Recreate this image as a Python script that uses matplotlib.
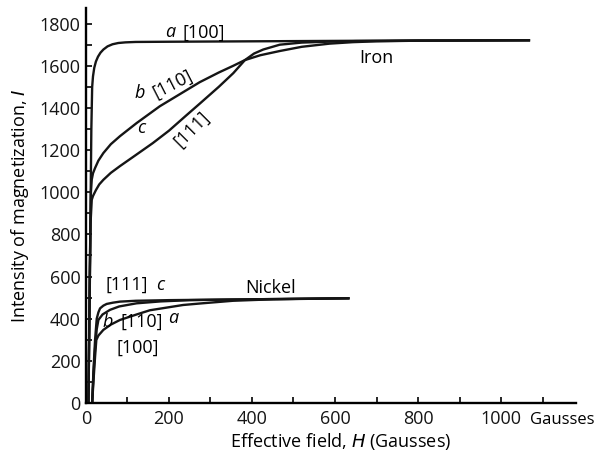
import matplotlib
matplotlib.use("Agg")
import matplotlib.pyplot as plt
import matplotlib.transforms as mtransforms
from matplotlib.ticker import MultipleLocator

plt.rcParams['font.family'] = ['Open Sans', 'DejaVu Sans']

# ---- Iron curves (H in Gausses, I intensity of magnetization)
iron_a_H = [6, 10, 13, 15, 17, 20, 24, 29, 35, 42, 52, 64, 78, 95, 120, 200, 400, 600, 800, 1070]
iron_a_I = [0, 700, 1300, 1500, 1550, 1590, 1620, 1643, 1662, 1677, 1692, 1702, 1708, 1711, 1713, 1714, 1716, 1718, 1720, 1721]

iron_b_H = [6, 9, 12, 14, 17, 22, 30, 42, 60, 82, 122, 178, 226, 274, 320, 355, 383, 420, 467, 520, 587, 643, 700, 800, 1070]
iron_b_I = [0, 600, 1000, 1060, 1090, 1115, 1150, 1186, 1228, 1266, 1328, 1408, 1465, 1522, 1568, 1600, 1627, 1650, 1670, 1690, 1705, 1712, 1716, 1719, 1721]

iron_c_H = [6, 9, 11, 14, 17, 24, 32, 42, 60, 82, 114, 161, 200, 242, 274, 320, 355, 383, 405, 427, 467, 520, 580, 650, 800, 1070]
iron_c_I = [0, 500, 850, 964, 982, 1010, 1037, 1059, 1092, 1124, 1168, 1233, 1292, 1365, 1420, 1500, 1565, 1627, 1658, 1677, 1700, 1710, 1714, 1717, 1719, 1721]

# ---- Nickel curves
nickel_c_H = [15, 18, 22, 26, 30, 34, 42, 50, 65, 82, 120, 200, 300, 400, 500, 635]
nickel_c_I = [0, 150, 300, 400, 430, 449, 462, 470, 476, 481, 485, 488, 490, 492, 494, 497]

nickel_b_H = [15, 18, 22, 26, 30, 40, 58, 80, 122, 180, 250, 350, 635]
nickel_b_I = [0, 130, 260, 350, 394, 420, 442, 458, 473, 482, 488, 491, 497]

nickel_a_H = [15, 18, 22, 25, 30, 42, 60, 82, 122, 154, 202, 234, 274, 354, 450, 635]
nickel_a_I = [0, 100, 220, 299, 320, 347, 372, 394, 420, 440, 455, 465, 472, 485, 492, 497]

x_major = [0, 200, 400, 600, 800, 1000]
y_major = [0, 200, 400, 600, 800, 1000, 1200, 1400, 1600, 1800]

line_col = '#151515'
lw = 1.7
fs = 13

fig = plt.figure(figsize=(6.01, 4.59), dpi=100)
ax = fig.add_axes([0.143, 0.122, 0.815, 0.861])

for H, I in [(iron_a_H, iron_a_I), (iron_b_H, iron_b_I), (iron_c_H, iron_c_I),
             (nickel_a_H, nickel_a_I), (nickel_b_H, nickel_b_I), (nickel_c_H, nickel_c_I)]:
  ax.plot(H, I, color=line_col, linewidth=lw, solid_capstyle='butt', solid_joinstyle='round')

ax.set_xlim(0, 1180)
ax.set_ylim(0, 1875)
ax.spines['top'].set_visible(False)
ax.spines['right'].set_visible(False)
ax.spines['left'].set_linewidth(1.7)
ax.spines['bottom'].set_linewidth(1.7)

ax.set_xticks(x_major)
ax.set_yticks(y_major)
ax.xaxis.set_minor_locator(MultipleLocator(100))
ax.yaxis.set_minor_locator(MultipleLocator(100))
ax.tick_params(which='both', direction='in', length=4, width=1.3, colors=line_col, labelsize=fs, pad=5)
ax.tick_params(axis='y', which='both', pad=4)

ax.set_xlabel('Effective field, $\\mathit{H}$ (Gausses)', fontsize=fs)
ax.set_ylabel('Intensity of magnetization, $\\mathit{I}$', fontsize=fs, labelpad=6)
ax.xaxis.set_label_coords(0.52, -0.07)

# unit after the last tick label
trans = mtransforms.blended_transform_factory(ax.transData, ax.transAxes)
ax.text(1070, -0.043, 'Gausses', transform=trans, fontsize=12, va='center', ha='left', clip_on=False)

# iron labels
ax.text(202, 1758, 'a', fontsize=fs, style='italic', ha='center', va='center')
ax.text(284, 1758, '[100]', fontsize=fs, ha='center', va='center')
ax.text(700, 1639, 'Iron', fontsize=fs, ha='center', va='center')
ax.text(130, 1472, 'b', fontsize=fs, style='italic', ha='center', va='center')
ax.text(210, 1511, '[110]', fontsize=fs, ha='center', va='center', rotation=27)
ax.text(134, 1306, 'c', fontsize=fs, style='italic', ha='center', va='center')
ax.text(256, 1300, '[111]', fontsize=fs, ha='center', va='center', rotation=45)

# nickel labels
ax.text(99, 561, '[111]', fontsize=fs, ha='center', va='center')
ax.text(178, 561, 'c', fontsize=fs, style='italic', ha='center', va='center')
ax.text(445, 546, 'Nickel', fontsize=fs, ha='center', va='center')
ax.text(53, 386, 'b', fontsize=fs, style='italic', ha='center', va='center')
ax.text(134, 385, '[110]', fontsize=fs, ha='center', va='center')
ax.text(210, 404, 'a', fontsize=fs, style='italic', ha='center', va='center')
ax.text(125, 261, '[100]', fontsize=fs, ha='center', va='center')

plt.savefig('out.png', dpi=100)
